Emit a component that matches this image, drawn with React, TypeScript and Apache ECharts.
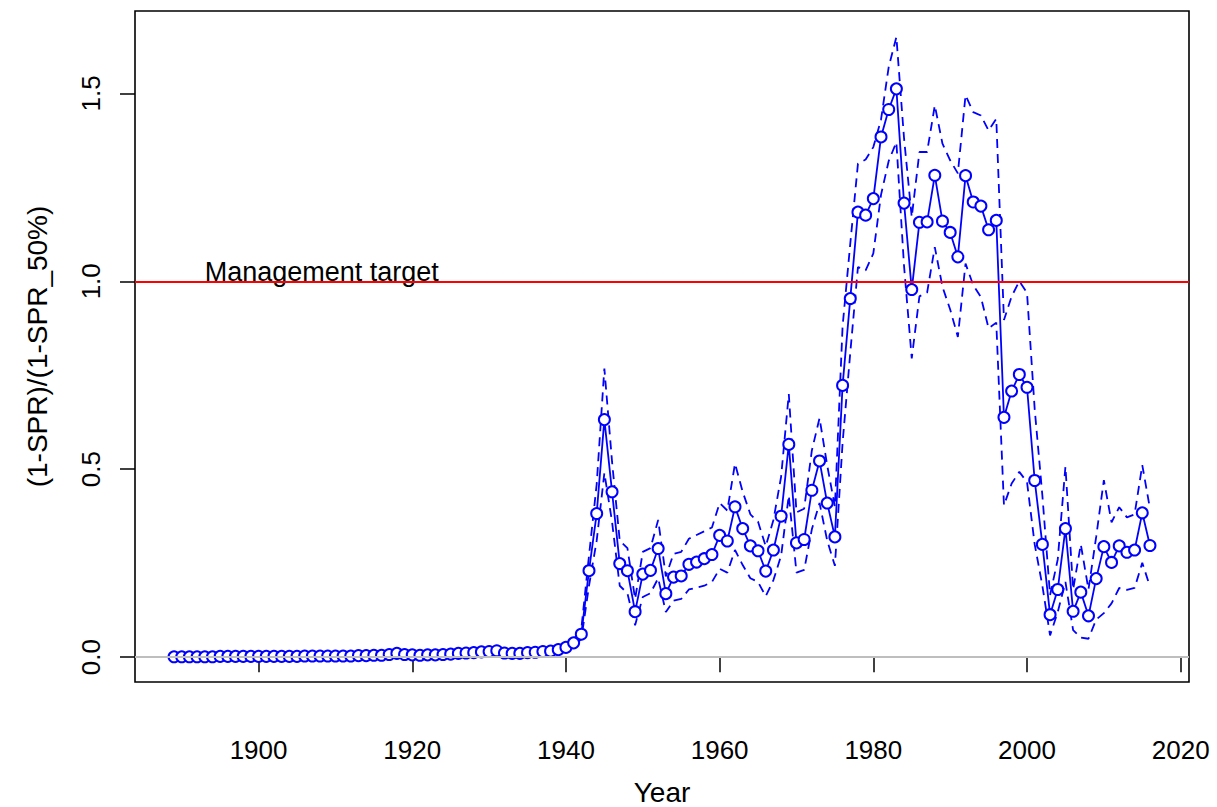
import React, { useEffect, useRef } from "react";
import * as echarts from "echarts";

const YEARS = [
  1889, 1890, 1891, 1892, 1893, 1894, 1895, 1896, 1897, 1898, 1899,
  1900, 1901, 1902, 1903, 1904, 1905, 1906, 1907, 1908, 1909,
  1910, 1911, 1912, 1913, 1914, 1915, 1916, 1917, 1918, 1919,
  1920, 1921, 1922, 1923, 1924, 1925, 1926, 1927, 1928, 1929,
  1930, 1931, 1932, 1933, 1934, 1935, 1936, 1937, 1938, 1939,
  1940, 1941, 1942, 1943, 1944, 1945, 1946, 1947, 1948, 1949,
  1950, 1951, 1952, 1953, 1954, 1955, 1956, 1957, 1958, 1959,
  1960, 1961, 1962, 1963, 1964, 1965, 1966, 1967, 1968, 1969,
  1970, 1971, 1972, 1973, 1974, 1975, 1976, 1977, 1978, 1979,
  1980, 1981, 1982, 1983, 1984, 1985, 1986, 1987, 1988, 1989,
  1990, 1991, 1992, 1993, 1994, 1995, 1996, 1997, 1998, 1999,
  2000, 2001, 2002, 2003, 2004, 2005, 2006, 2007, 2008, 2009,
  2010, 2011, 2012, 2013, 2014, 2015, 2016,
];

const VALUES = [
  0.001, 0.001, 0.001, 0.001, 0.001, 0.001, 0.002, 0.002, 0.002, 0.002, 0.002,
  0.002, 0.002, 0.002, 0.002, 0.002, 0.002, 0.003, 0.003, 0.003, 0.003,
  0.003, 0.003, 0.003, 0.004, 0.004, 0.005, 0.005, 0.007, 0.010, 0.007,
  0.006, 0.005, 0.006, 0.006, 0.007, 0.008, 0.010, 0.011, 0.012, 0.014,
  0.015, 0.017, 0.011, 0.010, 0.010, 0.012, 0.013, 0.015, 0.016, 0.020,
  0.026, 0.038, 0.061, 0.230, 0.382, 0.632, 0.440, 0.249, 0.230, 0.121,
  0.221, 0.231, 0.289, 0.169, 0.213, 0.216, 0.247, 0.253, 0.262, 0.273,
  0.324, 0.309, 0.400, 0.342, 0.296, 0.283, 0.229, 0.285, 0.375, 0.566,
  0.304, 0.313, 0.444, 0.522, 0.410, 0.320, 0.723, 0.954, 1.184, 1.176,
  1.220, 1.384, 1.457, 1.512, 1.208, 0.978, 1.157, 1.158, 1.282, 1.160,
  1.130, 1.065, 1.281, 1.211, 1.200, 1.137, 1.162, 0.638, 0.708, 0.752,
  0.718, 0.470, 0.300, 0.113, 0.180, 0.342, 0.122, 0.173, 0.110, 0.209,
  0.294, 0.252, 0.296, 0.279, 0.285, 0.384, 0.297,
];

const UPPER = [
  0.001, 0.001, 0.001, 0.001, 0.001, 0.002, 0.002, 0.002, 0.002, 0.002, 0.002,
  0.003, 0.003, 0.003, 0.003, 0.003, 0.003, 0.004, 0.004, 0.004, 0.004,
  0.004, 0.004, 0.004, 0.005, 0.005, 0.006, 0.006, 0.009, 0.013, 0.009,
  0.008, 0.007, 0.008, 0.008, 0.009, 0.010, 0.013, 0.014, 0.016, 0.018,
  0.020, 0.022, 0.014, 0.013, 0.013, 0.016, 0.017, 0.019, 0.021, 0.026,
  0.033, 0.047, 0.075, 0.270, 0.460, 0.768, 0.520, 0.310, 0.290, 0.155,
  0.280, 0.290, 0.365, 0.215, 0.275, 0.280, 0.315, 0.325, 0.335, 0.345,
  0.410, 0.390, 0.515, 0.440, 0.380, 0.360, 0.295, 0.365, 0.480, 0.700,
  0.385, 0.395, 0.550, 0.636, 0.510, 0.400, 0.880, 1.100, 1.313, 1.324,
  1.357, 1.430, 1.570, 1.650, 1.380, 1.171, 1.344, 1.344, 1.468, 1.366,
  1.322, 1.287, 1.495, 1.450, 1.441, 1.401, 1.432, 0.897, 0.960, 1.000,
  0.969, 0.660, 0.430, 0.165, 0.260, 0.507, 0.180, 0.300, 0.180, 0.320,
  0.471, 0.359, 0.399, 0.372, 0.380, 0.511, 0.395,
];

const LOWER = [
  0.000, 0.000, 0.000, 0.000, 0.000, 0.001, 0.001, 0.001, 0.001, 0.001, 0.001,
  0.001, 0.001, 0.001, 0.001, 0.001, 0.001, 0.002, 0.002, 0.002, 0.002,
  0.002, 0.002, 0.002, 0.003, 0.003, 0.004, 0.004, 0.005, 0.007, 0.005,
  0.004, 0.003, 0.004, 0.004, 0.005, 0.006, 0.007, 0.008, 0.008, 0.010,
  0.011, 0.012, 0.008, 0.007, 0.007, 0.008, 0.009, 0.011, 0.011, 0.015,
  0.019, 0.029, 0.048, 0.190, 0.310, 0.490, 0.360, 0.190, 0.170, 0.085,
  0.160, 0.170, 0.210, 0.120, 0.150, 0.155, 0.180, 0.185, 0.190, 0.200,
  0.235, 0.225, 0.285, 0.245, 0.210, 0.200, 0.162, 0.205, 0.270, 0.430,
  0.225, 0.232, 0.340, 0.410, 0.310, 0.243, 0.570, 0.810, 1.038, 1.029,
  1.074, 1.230, 1.320, 1.370, 1.040, 0.795, 0.960, 0.970, 1.091, 0.985,
  0.925, 0.852, 1.047, 0.990, 0.958, 0.875, 0.890, 0.404, 0.462, 0.493,
  0.466, 0.300, 0.190, 0.058, 0.120, 0.200, 0.072, 0.052, 0.049, 0.100,
  0.117, 0.143, 0.184, 0.179, 0.184, 0.251, 0.188,
];

const X_TICKS = [1900, 1920, 1940, 1960, 1980, 2000, 2020];
const Y_TICKS = [0, 0.5, 1.0, 1.5];
const X_MIN = 1883.92;
const X_MAX = 2021.08;
const Y_MIN = -0.0661;
const Y_MAX = 1.7191;
const ZERO_LINE = 0;
const TARGET = 1.0;
const TARGET_LABEL = "Management target";
const TARGET_LABEL_X = 1893;
const X_NAME = "Year";
const Y_NAME = "(1-SPR)/(1-SPR_50%)";

const FONT = "'Liberation Sans', Arial, sans-serif";
const BLUE = "#0000ff";

const pairs = (ys: number[]) => YEARS.map((y, i) => [y, ys[i]]);

export default function App() {
  const ref = useRef<HTMLDivElement>(null);

  useEffect(() => {
    if (!ref.current) return;
    const chart = echarts.init(ref.current, null, { renderer: "svg" });
    const option: any = {
      animation: false,
      backgroundColor: "#ffffff",
      grid: {
        left: 135,
        right: 28,
        top: 11,
        bottom: 125,
        show: true,
        borderColor: "#000",
        borderWidth: 1.6,
        backgroundColor: "transparent",
        containLabel: false,
        outerBoundsMode: "none",
      },
      xAxis: {
        type: "value",
        min: X_MIN,
        max: X_MAX,
        name: X_NAME,
        nameLocation: "middle",
        nameGap: 96,
        nameTextStyle: { fontSize: 28, lineHeight: 28, color: "#000", fontFamily: FONT },
        axisLine: { show: false },
        axisTick: {
          show: true,
          customValues: X_TICKS,
          length: 15,
          lineStyle: { color: "#000", width: 1.5 },
        },
        axisLabel: {
          customValues: X_TICKS,
          fontSize: 26,
          color: "#000",
          fontFamily: FONT,
          margin: 55,
          formatter: (v: number) => String(v),
        },
        splitLine: { show: false },
      },
      yAxis: {
        type: "value",
        min: Y_MIN,
        max: Y_MAX,
        name: Y_NAME,
        nameLocation: "middle",
        nameGap: 84,
        nameTextStyle: { fontSize: 28, color: "#000", fontFamily: FONT },
        axisLine: { show: false },
        axisTick: {
          show: true,
          customValues: Y_TICKS,
          length: 15,
          lineStyle: { color: "#000", width: 1.5 },
        },
        axisLabel: {
          customValues: Y_TICKS,
          fontSize: 26,
          color: "#000",
          fontFamily: FONT,
          rotate: 90,
          margin: 31,
          formatter: (v: number) => v.toFixed(1),
        },
        splitLine: { show: false },
      },
      series: [
        {
          type: "line",
          data: [],
          silent: true,
          markLine: {
            silent: true,
            symbol: ["none", "none"],
            label: { show: false },
            animation: false,
            data: [
              { yAxis: ZERO_LINE, lineStyle: { color: "#bebebe", width: 1.8, type: "solid" } },
              { yAxis: TARGET, lineStyle: { color: "#ff0000", width: 1.8, type: "solid" } },
            ],
          },
        },
        {
          type: "scatter",
          data: [[TARGET_LABEL_X, TARGET]],
          symbolSize: 0.1,
          itemStyle: { color: "transparent", opacity: 1 },
          silent: true,
          label: {
            show: true,
            formatter: TARGET_LABEL,
            position: [0, 0],
            align: "left",
            verticalAlign: "middle",
            offset: [0, -9],
            fontSize: 27,
            color: "#000000",
            opacity: 1,
            fontFamily: FONT,
          },
        },
        {
          type: "line",
          data: pairs(UPPER),
          symbol: "none",
          lineStyle: { color: BLUE, width: 1.8, type: [9, 6] },
        },
        {
          type: "line",
          data: pairs(LOWER),
          symbol: "none",
          lineStyle: { color: BLUE, width: 1.8, type: [9, 6] },
        },
        {
          type: "line",
          data: pairs(VALUES),
          symbol: "emptyCircle",
          symbolSize: 11,
          lineStyle: { color: BLUE, width: 1.8 },
          itemStyle: { color: BLUE, borderColor: BLUE, borderWidth: 1.8 },
        },
      ],
    };
    chart.setOption(option);
    return () => chart.dispose();
  }, []);

  return (
    <div
      ref={ref}
      style={{ position: "fixed", left: 0, top: 0, width: 1217, height: 807, background: "#fff" }}
    />
  );
}
